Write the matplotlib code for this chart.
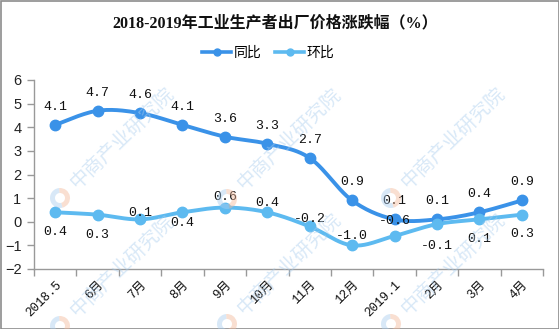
import numpy as np
import matplotlib
matplotlib.use("Agg")
import matplotlib.pyplot as plt
from matplotlib.patches import Rectangle, Wedge

# ---- data ----
categories = ['2018.5', '6月', '7月', '8月', '9月', '10月', '11月', '12月',
              '2019.1', '2月', '3月', '4月']
yoy = [4.1, 4.7, 4.6, 4.1, 3.6, 3.3, 2.7, 0.9, 0.1, 0.1, 0.4, 0.9]     # 同比
mom = [0.4, 0.3, 0.1, 0.4, 0.6, 0.4, -0.2, -1.0, -0.6, -0.1, 0.1, 0.3]  # 环比
y_ticks = [-2, -1, 0, 1, 2, 3, 4, 5, 6]

# label offsets in pixels (positive = above the point)
yoy_label_dy = [18] * len(yoy)
mom_label_dy = [-20, -20, 6, -11, 11, 9, 7, 9, 15, -22, -20, -19]

C_YOY = '#3A92E8'
C_MOM = '#5DBAF0'

DPI = 100
W, H = 559, 329
px = 72.0 / DPI  # points per pixel

CJK = 'Noto Sans CJK SC'
num_font = ['Liberation Mono', CJK]


def catmull_rom(xs, ys, n=24):
    """Smooth curve through the given points (uniform Catmull-Rom)."""
    P = np.column_stack([xs, ys]).astype(float)
    P = np.vstack([P[0], P, P[-1]])
    out = []
    t = np.linspace(0, 1, n, endpoint=False)[:, None]
    for i in range(1, len(P) - 2):
        p0, p1, p2, p3 = P[i - 1], P[i], P[i + 1], P[i + 2]
        seg = 0.5 * ((2 * p1) + (-p0 + p2) * t +
                     (2 * p0 - 5 * p1 + 4 * p2 - p3) * t ** 2 +
                     (-p0 + 3 * p1 - 3 * p2 + p3) * t ** 3)
        out.append(seg)
    out.append(P[-2][None, :])
    c = np.vstack(out)
    return c[:, 0], c[:, 1]


fig = plt.figure(figsize=(W / DPI, H / DPI), dpi=DPI)
fig.patch.set_facecolor('white')

L, R, B, T = 34, 543, 269, 80
ax = fig.add_axes([L / W, 1 - B / H, (R - L) / W, (B - T) / H])
ax.set_facecolor('none')

x = np.arange(len(categories))
for vals, col in ((yoy, C_YOY), (mom, C_MOM)):
    sx, sy = catmull_rom(x, vals)
    ax.plot(sx, sy, color=col, lw=2.8, solid_capstyle='round', zorder=3)
    ax.plot(x, vals, 'o', color=col, ms=7.5, zorder=4)

for xi, v, dy in zip(x, yoy, yoy_label_dy):
    ax.annotate(f'{v:.1f}', (xi, v), xytext=(0, dy * px), textcoords='offset points',
                ha='center', va='center', fontsize=9.5, family=num_font,
                color='#111111', zorder=5)
for xi, v, dy in zip(x, mom, mom_label_dy):
    ax.annotate(f'{v:.1f}', (xi, v), xytext=(0, dy * px), textcoords='offset points',
                ha='center', va='center', fontsize=9.5, family=num_font,
                color='#111111', zorder=5)

ax.set_xlim(-0.5, len(categories) - 0.5)
ax.set_ylim(-2, 6)
ax.set_yticks(y_ticks)
ax.set_yticklabels([f'{t}' if t >= 0 else f'\u2212{abs(t)}' for t in y_ticks],
                   family='Liberation Sans', fontsize=10.5, color='#222222')

ax.set_xticks(x)
ax.set_xticks(np.arange(-0.5, len(categories)), minor=True)
ax.set_xticklabels(categories, rotation=45, ha='right', va='top',
                   rotation_mode='anchor', fontsize=9, family=num_font,
                   color='#111111')
ax.tick_params(axis='x', which='major', length=0, pad=7)
ax.tick_params(axis='x', which='minor', length=5, color='#999999', width=1)
ax.tick_params(axis='y', length=5, color='#999999', width=1, pad=4)

for s in ('top', 'right'):
    ax.spines[s].set_visible(False)
for s in ('left', 'bottom'):
    ax.spines[s].set_color('#999999')
    ax.spines[s].set_linewidth(1)

# title
fig.text(275 / W, 1 - 23 / H, '2018-2019年工业生产者出厂价格涨跌幅（%）',
         ha='center', va='center', fontsize=11.5, fontweight='bold',
         family=['Liberation Serif', CJK], color='#111111')

# legend
handles = [plt.Line2D([], [], color=C_YOY, lw=2.6, marker='o', ms=5),
           plt.Line2D([], [], color=C_MOM, lw=2.6, marker='o', ms=5)]
fig.legend(handles, ['同比', '环比'], loc='center',
           bbox_to_anchor=(268 / W, 1 - 53 / H), ncol=2, frameon=False,
           prop={'family': CJK, 'size': 10}, handlelength=2.1,
           handletextpad=0.15, columnspacing=1.0)

# watermark
wm_centers = [(122, 138), (289, 139), (453, 138),
              (122, 266), (289, 264), (453, 264)]
for cx, cy in wm_centers:
    fig.text(cx / W, 1 - cy / H, '中商产业研究院', rotation=44,
             ha='center', va='center', fontsize=14, family=CJK,
             color='#A9CDEE', alpha=0.45, zorder=10)
    lx, ly = cx - 62, cy + 60
    r = 10
    # simple round logo, drawn in pixel space
    for th1, th2, c in ((95, 285, '#A9CDEE'), (285, 455, '#F3B89A')):
        w = Wedge((lx, H - ly), r, th1, th2, width=5, transform=None,
                  facecolor=c, edgecolor='none', alpha=0.45, zorder=10)
        fig.patches.append(w)

# outer frame
fig.patches.append(Rectangle((0.5, 0.5), W - 1, H - 1, transform=None,
                             fill=False, edgecolor='#8C8C8C', lw=1.2))

fig.savefig('out.png', dpi=DPI)
